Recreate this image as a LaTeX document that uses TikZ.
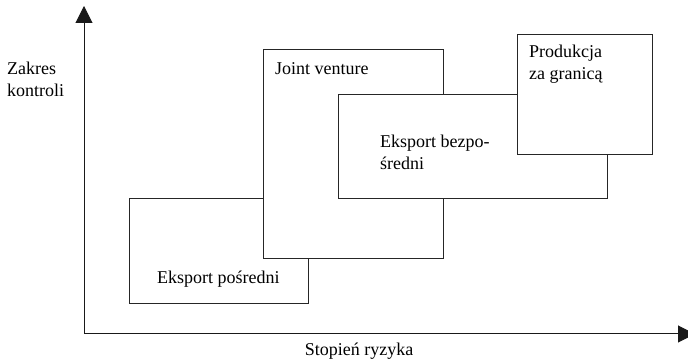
\documentclass[tikz,border=0pt]{standalone}
\usepackage{fontspec}
\setmainfont{Liberation Serif}
\newfontfamily\diagfont{Liberation Serif}
\usetikzlibrary{arrows.meta}
\tikzset{
  stagebox/.style={draw=black!85, line width=0.9pt, fill=white, inner sep=0pt, anchor=south west},
  lbl/.style={inner sep=0pt, anchor=base west, align=left, font=\diagfont\fontsize{18}{22}\selectfont},
  axis/.style={draw=black!90, line width=1pt, -{Triangle[length=17pt,width=17pt]}}
}
\begin{document}
\begin{tikzpicture}[x=1pt,y=1pt]
\useasboundingbox (0,0) rectangle (688,364);
% axes
\coordinate (o) at (84,30);
\coordinate (ytip) at (84,358);
\coordinate (xtip) at (695,30);
\draw[axis] (o) -- (ytip);
\draw[axis] (o) -- (xtip);
% boxes
\node[stagebox, minimum width=179pt, minimum height=105pt] (ep) at (129,60) {};
\node[stagebox, minimum width=180pt, minimum height=209pt] (jv) at (263,105) {};
\node[stagebox, minimum width=269pt, minimum height=104pt] (eb) at (338,165) {};
\node[stagebox, minimum width=135pt, minimum height=120pt] (pzg) at (517,209) {};
% labels
\node[lbl] (tep) at (157,80) {Eksport pośredni};
\node[lbl] (tjv) at (275,289) {Joint venture};
\node[lbl] (teb) at (380,194) {Eksport bezpo-\\średni};
\node[lbl] (tpzg) at (529,284) {Produkcja\\za granicą};
\node[lbl] (ty) at (7,267) {Zakres\\kontroli};
\node[lbl, anchor=base] (tx) at (359,9) {Stopień ryzyka};
\end{tikzpicture}
\end{document}
